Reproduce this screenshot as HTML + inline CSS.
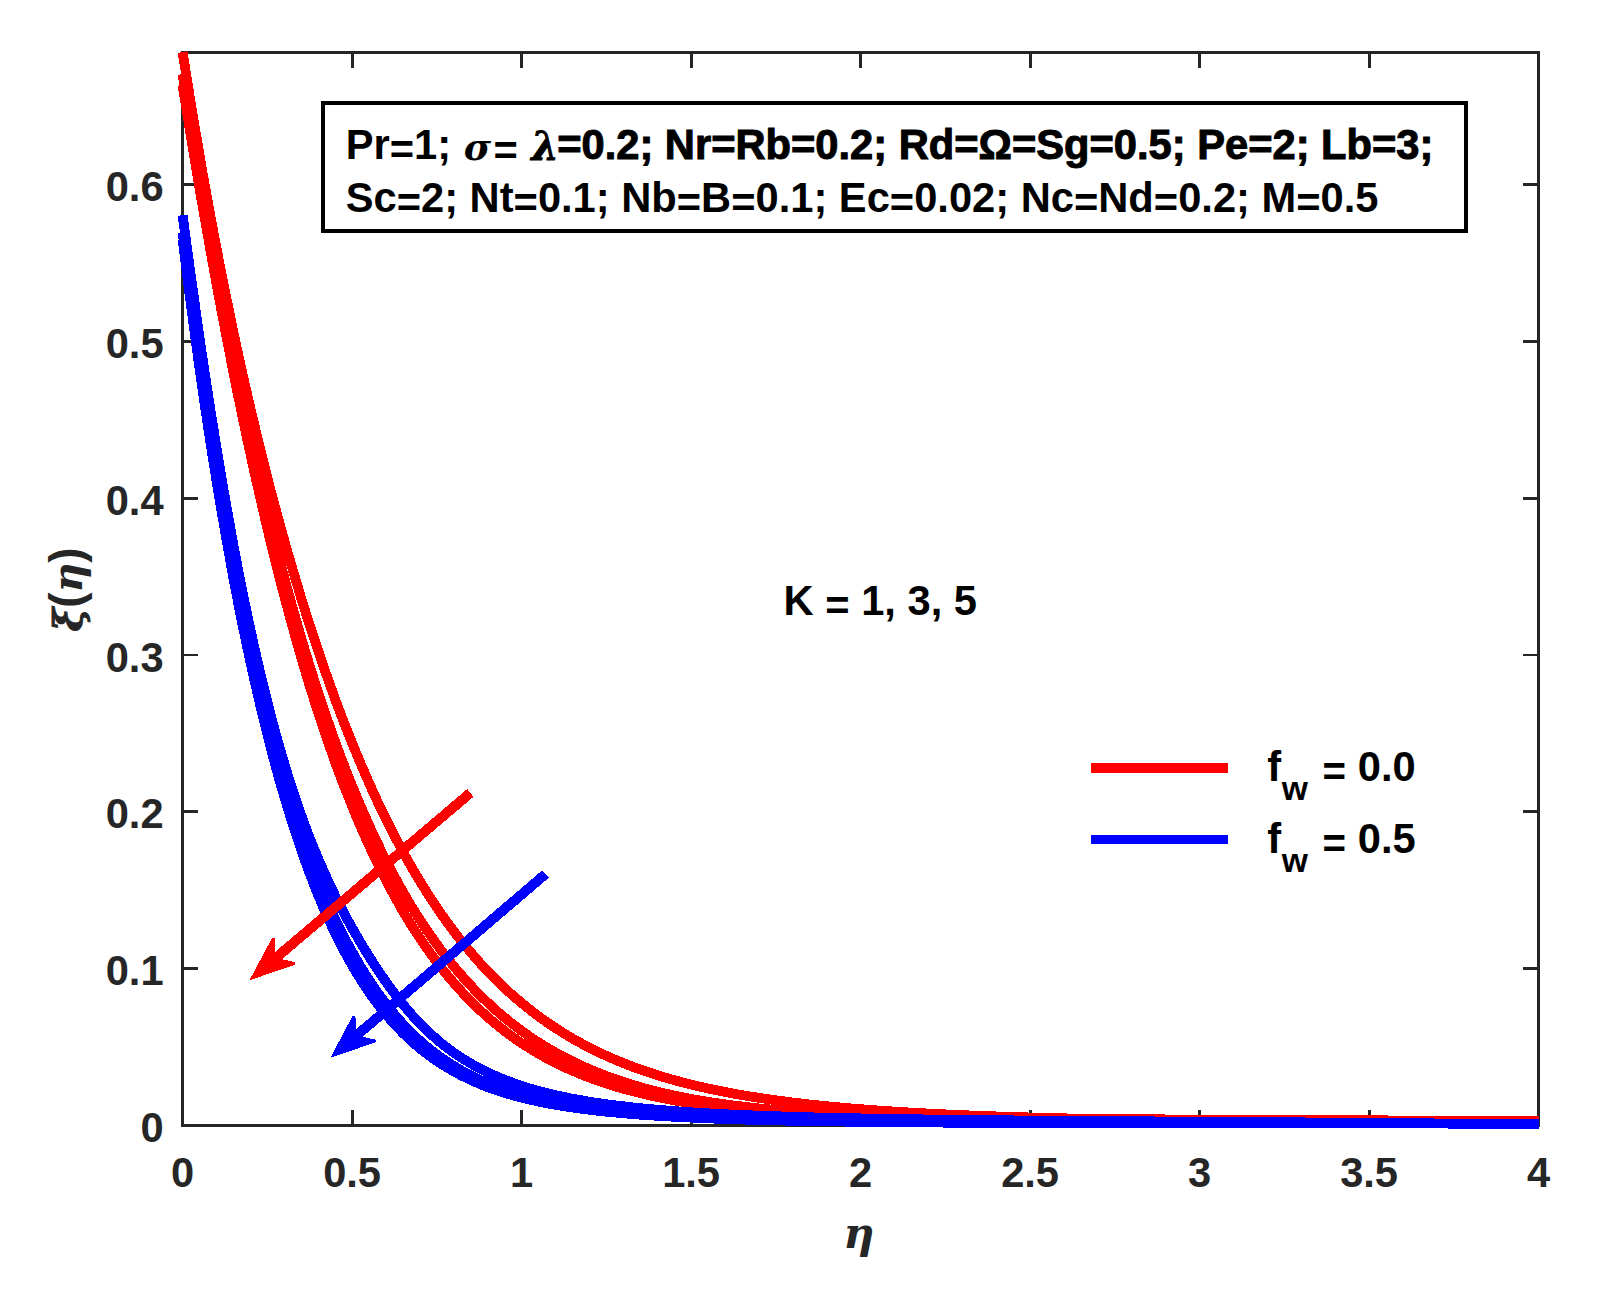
<!DOCTYPE html>
<html lang="en"><head><meta charset="utf-8"><title>Plot</title>
<style>html,body{margin:0;padding:0;background:#fff}svg{display:block}text{font-family:"Liberation Sans",sans-serif;font-weight:bold;font-size:41.67px}.ax{fill:#262626}.sym{font-family:"DejaVu Serif","Liberation Serif",serif;font-style:italic;font-weight:bold}.xb{stroke:#000;stroke-width:1px;paint-order:stroke}</style></head><body>
<svg width="1603" height="1297" viewBox="0 0 1603 1297" shape-rendering="crispEdges">
<rect width="1603" height="1297" fill="#fff"/>
<g stroke="#262626" stroke-width="2.9" fill="none" stroke-linecap="butt">
<rect x="182.6" y="52.3" width="1356.0" height="1073.1000000000001"/>
<line x1="352.1" y1="1125.4" x2="352.1" y2="1110.0"/>
<line x1="352.1" y1="52.3" x2="352.1" y2="67.7"/>
<line x1="521.6" y1="1125.4" x2="521.6" y2="1110.0"/>
<line x1="521.6" y1="52.3" x2="521.6" y2="67.7"/>
<line x1="691.1" y1="1125.4" x2="691.1" y2="1110.0"/>
<line x1="691.1" y1="52.3" x2="691.1" y2="67.7"/>
<line x1="860.6" y1="1125.4" x2="860.6" y2="1110.0"/>
<line x1="860.6" y1="52.3" x2="860.6" y2="67.7"/>
<line x1="1030.1" y1="1125.4" x2="1030.1" y2="1110.0"/>
<line x1="1030.1" y1="52.3" x2="1030.1" y2="67.7"/>
<line x1="1199.6" y1="1125.4" x2="1199.6" y2="1110.0"/>
<line x1="1199.6" y1="52.3" x2="1199.6" y2="67.7"/>
<line x1="1369.1" y1="1125.4" x2="1369.1" y2="1110.0"/>
<line x1="1369.1" y1="52.3" x2="1369.1" y2="67.7"/>
<line x1="182.6" y1="968.6" x2="198.0" y2="968.6"/>
<line x1="1538.6" y1="968.6" x2="1523.1999999999998" y2="968.6"/>
<line x1="182.6" y1="811.8" x2="198.0" y2="811.8"/>
<line x1="1538.6" y1="811.8" x2="1523.1999999999998" y2="811.8"/>
<line x1="182.6" y1="655.0" x2="198.0" y2="655.0"/>
<line x1="1538.6" y1="655.0" x2="1523.1999999999998" y2="655.0"/>
<line x1="182.6" y1="498.2" x2="198.0" y2="498.2"/>
<line x1="1538.6" y1="498.2" x2="1523.1999999999998" y2="498.2"/>
<line x1="182.6" y1="341.4" x2="198.0" y2="341.4"/>
<line x1="1538.6" y1="341.4" x2="1523.1999999999998" y2="341.4"/>
<line x1="182.6" y1="184.6" x2="198.0" y2="184.6"/>
<line x1="1538.6" y1="184.6" x2="1523.1999999999998" y2="184.6"/>
</g>
<g class="ax" text-anchor="middle" style="font-size:42.4px">
<text x="182.6" y="1187">0</text>
<text x="352.1" y="1187">0.5</text>
<text x="521.6" y="1187">1</text>
<text x="691.1" y="1187">1.5</text>
<text x="860.6" y="1187">2</text>
<text x="1030.1" y="1187">2.5</text>
<text x="1199.6" y="1187">3</text>
<text x="1369.1" y="1187">3.5</text>
<text x="1538.6" y="1187">4</text>
</g>
<g class="ax" text-anchor="end" style="font-size:42.4px">
<text x="163.6" y="1142.0">0</text>
<text x="163.6" y="985.2">0.1</text>
<text x="163.6" y="828.4">0.2</text>
<text x="163.6" y="671.6">0.3</text>
<text x="163.6" y="514.8">0.4</text>
<text x="163.6" y="358.0">0.5</text>
<text x="163.6" y="201.2">0.6</text>
</g>
<clipPath id="c"><rect x="176" y="50.8" width="1364" height="1082"/></clipPath>
<g fill="none" stroke-width="9.8" stroke-linejoin="round" clip-path="url(#c)">
<path stroke="#f00" d="M182.6,52.1 L186.0,73.6 L189.4,94.7 L192.8,115.3 L196.2,135.4 L199.5,155.2 L202.9,174.6 L206.3,193.5 L209.7,212.1 L213.1,230.3 L216.5,248.1 L219.9,265.6 L223.3,282.7 L226.7,299.5 L230.1,316.0 L233.4,332.1 L236.8,347.9 L240.2,363.5 L243.6,378.7 L247.0,393.6 L250.4,408.3 L253.8,422.6 L257.2,436.8 L260.6,450.6 L264.0,464.2 L267.4,477.5 L270.7,490.6 L274.1,503.5 L277.5,516.1 L280.9,528.5 L284.3,540.6 L287.7,552.6 L291.1,564.3 L294.5,575.8 L297.9,587.1 L301.2,598.2 L304.6,609.1 L308.0,619.9 L311.4,630.4 L314.8,640.7 L318.2,650.9 L321.6,660.9 L325.0,670.7 L328.4,680.3 L331.8,689.8 L335.1,699.1 L338.5,708.2 L341.9,717.2 L345.3,726.0 L348.7,734.6 L352.1,743.0 L355.5,751.3 L358.9,759.5 L362.3,767.5 L365.7,775.3 L369.1,783.0 L372.4,790.5 L375.8,797.9 L379.2,805.1 L382.6,812.2 L386.0,819.1 L389.4,825.9 L392.8,832.6 L396.2,839.1 L399.6,845.5 L402.9,851.8 L406.3,857.9 L409.7,863.9 L413.1,869.8 L416.5,875.6 L419.9,881.2 L423.3,886.7 L426.7,892.1 L430.1,897.4 L433.5,902.5 L436.9,907.6 L440.2,912.5 L443.6,917.4 L447.0,922.1 L450.4,926.7 L453.8,931.2 L457.2,935.7 L460.6,940.0 L464.0,944.2 L467.4,948.3 L470.8,952.4 L474.1,956.3 L477.5,960.2 L480.9,964.0 L484.3,967.6 L487.7,971.2 L491.1,974.8 L494.5,978.2 L497.9,981.6 L501.3,984.8 L504.6,988.0 L508.0,991.2 L511.4,994.2 L514.8,997.2 L518.2,1000.1 L521.6,1003.0 L530.1,1009.8 L538.5,1016.3 L547.0,1022.3 L555.5,1028.0 L564.0,1033.4 L572.4,1038.5 L580.9,1043.2 L589.4,1047.7 L597.9,1051.9 L606.4,1055.9 L614.8,1059.6 L623.3,1063.1 L631.8,1066.4 L640.2,1069.5 L648.7,1072.4 L657.2,1075.1 L665.7,1077.7 L674.1,1080.1 L682.6,1082.4 L691.1,1084.5 L699.6,1086.6 L708.1,1088.5 L716.5,1090.3 L725.0,1092.0 L733.5,1093.6 L742.0,1095.1 L750.4,1096.5 L758.9,1097.8 L767.4,1099.1 L775.9,1100.3 L784.3,1101.4 L792.8,1102.5 L801.3,1103.5 L809.8,1104.5 L818.2,1105.4 L826.7,1106.2 L835.2,1107.0 L843.7,1107.8 L852.1,1108.5 L860.6,1109.2 L884.0,1110.9 L907.4,1112.4 L930.7,1113.7 L954.1,1114.8 L977.5,1115.8 L1000.9,1116.6 L1024.3,1117.3 L1047.6,1118.0 L1071.0,1118.5 L1094.4,1119.0 L1117.8,1119.4 L1141.2,1119.8 L1164.5,1120.1 L1187.9,1120.4 L1211.3,1120.6 L1234.7,1120.8 L1258.0,1121.0 L1281.4,1121.1 L1304.8,1121.3 L1328.2,1121.3 L1351.6,1121.4 L1374.9,1121.5 L1398.3,1121.5 L1421.7,1121.5 L1445.1,1121.4 L1468.5,1121.4 L1491.8,1121.3 L1515.2,1121.2 L1538.6,1121.1"/>
<path stroke="#f00" d="M182.6,74.1 L186.0,95.1 L189.4,115.8 L192.8,136.2 L196.2,156.4 L199.5,176.2 L202.9,195.7 L206.3,214.9 L209.7,233.8 L213.1,252.4 L216.5,270.8 L219.9,288.8 L223.3,306.5 L226.7,323.9 L230.1,341.1 L233.4,357.9 L236.8,374.5 L240.2,390.8 L243.6,406.8 L247.0,422.5 L250.4,438.0 L253.8,453.1 L257.2,468.0 L260.6,482.6 L264.0,497.0 L267.4,511.1 L270.7,524.9 L274.1,538.5 L277.5,551.8 L280.9,564.8 L284.3,577.6 L287.7,590.2 L291.1,602.5 L294.5,614.6 L297.9,626.4 L301.2,638.0 L304.6,649.3 L308.0,660.5 L311.4,671.4 L314.8,682.1 L318.2,692.5 L321.6,702.8 L325.0,712.8 L328.4,722.6 L331.8,732.2 L335.1,741.6 L338.5,750.8 L341.9,759.8 L345.3,768.7 L348.7,777.3 L352.1,785.7 L355.5,794.0 L358.9,802.0 L362.3,809.9 L365.7,817.7 L369.1,825.2 L372.4,832.6 L375.8,839.8 L379.2,846.8 L382.6,853.7 L386.0,860.4 L389.4,867.0 L392.8,873.4 L396.2,879.7 L399.6,885.8 L402.9,891.8 L406.3,897.7 L409.7,903.4 L413.1,909.0 L416.5,914.4 L419.9,919.7 L423.3,924.9 L426.7,930.0 L430.1,934.9 L433.5,939.7 L436.9,944.4 L440.2,949.0 L443.6,953.5 L447.0,957.9 L450.4,962.1 L453.8,966.3 L457.2,970.4 L460.6,974.3 L464.0,978.2 L467.4,981.9 L470.8,985.6 L474.1,989.2 L477.5,992.7 L480.9,996.1 L484.3,999.4 L487.7,1002.6 L491.1,1005.8 L494.5,1008.9 L497.9,1011.9 L501.3,1014.8 L504.6,1017.6 L508.0,1020.4 L511.4,1023.1 L514.8,1025.7 L518.2,1028.3 L521.6,1030.8 L530.1,1036.8 L538.5,1042.4 L547.0,1047.6 L555.5,1052.5 L564.0,1057.1 L572.4,1061.4 L580.9,1065.4 L589.4,1069.2 L597.9,1072.7 L606.4,1076.0 L614.8,1079.1 L623.3,1081.9 L631.8,1084.6 L640.2,1087.1 L648.7,1089.5 L657.2,1091.6 L665.7,1093.6 L674.1,1095.5 L682.6,1097.3 L691.1,1098.9 L699.6,1100.4 L708.1,1101.8 L716.5,1103.1 L725.0,1104.3 L733.5,1105.5 L742.0,1106.5 L750.4,1107.5 L758.9,1108.4 L767.4,1109.2 L775.9,1110.0 L784.3,1110.7 L792.8,1111.3 L801.3,1111.9 L809.8,1112.5 L818.2,1113.0 L826.7,1113.5 L835.2,1113.9 L843.7,1114.3 L852.1,1114.7 L860.6,1115.1 L884.0,1115.9 L907.4,1116.6 L930.7,1117.2 L954.1,1117.6 L977.5,1118.0 L1000.9,1118.3 L1024.3,1118.6 L1047.6,1118.8 L1071.0,1119.0 L1094.4,1119.1 L1117.8,1119.2 L1141.2,1119.3 L1164.5,1119.4 L1187.9,1119.5 L1211.3,1119.6 L1234.7,1119.6 L1258.0,1119.7 L1281.4,1119.8 L1304.8,1119.9 L1328.2,1120.0 L1351.6,1120.1 L1374.9,1120.3 L1398.3,1120.5 L1421.7,1120.7 L1445.1,1120.9 L1468.5,1121.1 L1491.8,1121.4 L1515.2,1121.6 L1538.6,1121.9"/>
<path stroke="#f00" d="M182.6,85.1 L186.0,106.3 L189.4,127.1 L192.8,147.7 L196.2,168.0 L199.5,188.0 L202.9,207.7 L206.3,227.1 L209.7,246.3 L213.1,265.2 L216.5,283.8 L219.9,302.1 L223.3,320.1 L226.7,337.8 L230.1,355.2 L233.4,372.4 L236.8,389.3 L240.2,405.8 L243.6,422.1 L247.0,438.2 L250.4,453.9 L253.8,469.4 L257.2,484.5 L260.6,499.4 L264.0,514.1 L267.4,528.4 L270.7,542.5 L274.1,556.3 L277.5,569.8 L280.9,583.1 L284.3,596.2 L287.7,608.9 L291.1,621.4 L294.5,633.7 L297.9,645.7 L301.2,657.4 L304.6,668.9 L308.0,680.2 L311.4,691.3 L314.8,702.0 L318.2,712.6 L321.6,723.0 L325.0,733.1 L328.4,743.0 L331.8,752.6 L335.1,762.1 L338.5,771.3 L341.9,780.4 L345.3,789.2 L348.7,797.8 L352.1,806.2 L355.5,814.5 L358.9,822.5 L362.3,830.4 L365.7,838.0 L369.1,845.5 L372.4,852.8 L375.8,860.0 L379.2,866.9 L382.6,873.7 L386.0,880.3 L389.4,886.8 L392.8,893.1 L396.2,899.3 L399.6,905.3 L402.9,911.1 L406.3,916.8 L409.7,922.4 L413.1,927.8 L416.5,933.1 L419.9,938.2 L423.3,943.2 L426.7,948.1 L430.1,952.9 L433.5,957.5 L436.9,962.1 L440.2,966.5 L443.6,970.7 L447.0,974.9 L450.4,979.0 L453.8,982.9 L457.2,986.8 L460.6,990.5 L464.0,994.2 L467.4,997.7 L470.8,1001.2 L474.1,1004.6 L477.5,1007.8 L480.9,1011.0 L484.3,1014.1 L487.7,1017.1 L491.1,1020.1 L494.5,1022.9 L497.9,1025.7 L501.3,1028.4 L504.6,1031.0 L508.0,1033.6 L511.4,1036.1 L514.8,1038.5 L518.2,1040.9 L521.6,1043.1 L530.1,1048.6 L538.5,1053.7 L547.0,1058.4 L555.5,1062.8 L564.0,1066.9 L572.4,1070.7 L580.9,1074.3 L589.4,1077.6 L597.9,1080.6 L606.4,1083.5 L614.8,1086.2 L623.3,1088.7 L631.8,1091.0 L640.2,1093.1 L648.7,1095.1 L657.2,1097.0 L665.7,1098.7 L674.1,1100.3 L682.6,1101.8 L691.1,1103.1 L699.6,1104.4 L708.1,1105.6 L716.5,1106.7 L725.0,1107.7 L733.5,1108.7 L742.0,1109.5 L750.4,1110.4 L758.9,1111.1 L767.4,1111.8 L775.9,1112.4 L784.3,1113.0 L792.8,1113.6 L801.3,1114.1 L809.8,1114.6 L818.2,1115.0 L826.7,1115.4 L835.2,1115.8 L843.7,1116.2 L852.1,1116.5 L860.6,1116.8 L884.0,1117.5 L907.4,1118.1 L930.7,1118.6 L954.1,1119.0 L977.5,1119.3 L1000.9,1119.6 L1024.3,1119.8 L1047.6,1120.0 L1071.0,1120.1 L1094.4,1120.3 L1117.8,1120.3 L1141.2,1120.4 L1164.5,1120.5 L1187.9,1120.5 L1211.3,1120.6 L1234.7,1120.6 L1258.0,1120.6 L1281.4,1120.7 L1304.8,1120.7 L1328.2,1120.7 L1351.6,1120.8 L1374.9,1120.8 L1398.3,1120.9 L1421.7,1121.0 L1445.1,1121.1 L1468.5,1121.2 L1491.8,1121.4 L1515.2,1121.5 L1538.6,1121.7"/>
<path stroke="#00f" d="M182.6,215.1 L186.0,240.5 L189.4,265.5 L192.8,290.0 L196.2,314.0 L199.5,337.6 L202.9,360.6 L206.3,383.2 L209.7,405.2 L213.1,426.7 L216.5,447.7 L219.9,468.2 L223.3,488.2 L226.7,507.6 L230.1,526.5 L233.4,545.0 L236.8,562.9 L240.2,580.3 L243.6,597.2 L247.0,613.6 L250.4,629.5 L253.8,644.9 L257.2,659.9 L260.6,674.4 L264.0,688.4 L267.4,702.0 L270.7,715.1 L274.1,727.8 L277.5,740.1 L280.9,752.0 L284.3,763.5 L287.7,774.6 L291.1,785.3 L294.5,795.6 L297.9,805.6 L301.2,815.2 L304.6,824.5 L308.0,833.5 L311.4,842.1 L314.8,850.5 L318.2,858.6 L321.6,866.5 L325.0,874.1 L328.4,881.5 L331.8,888.7 L335.1,895.7 L338.5,902.5 L341.9,909.1 L345.3,915.5 L348.7,921.8 L352.1,927.9 L355.5,933.9 L358.9,939.7 L362.3,945.4 L365.7,951.0 L369.1,956.4 L372.4,961.7 L375.8,966.9 L379.2,972.0 L382.6,977.0 L386.0,981.9 L389.4,986.6 L392.8,991.2 L396.2,995.7 L399.6,1000.1 L402.9,1004.3 L406.3,1008.4 L409.7,1012.4 L413.1,1016.2 L416.5,1019.9 L419.9,1023.5 L423.3,1026.9 L426.7,1030.3 L430.1,1033.5 L433.5,1036.5 L436.9,1039.5 L440.2,1042.3 L443.6,1045.1 L447.0,1047.7 L450.4,1050.2 L453.8,1052.6 L457.2,1055.0 L460.6,1057.2 L464.0,1059.4 L467.4,1061.5 L470.8,1063.5 L474.1,1065.4 L477.5,1067.2 L480.9,1069.0 L484.3,1070.7 L487.7,1072.4 L491.1,1074.0 L494.5,1075.5 L497.9,1077.0 L501.3,1078.4 L504.6,1079.8 L508.0,1081.1 L511.4,1082.3 L514.8,1083.6 L518.2,1084.7 L521.6,1085.9 L530.1,1088.5 L538.5,1090.9 L547.0,1093.1 L555.5,1095.1 L564.0,1097.0 L572.4,1098.7 L580.9,1100.2 L589.4,1101.7 L597.9,1103.0 L606.4,1104.2 L614.8,1105.3 L623.3,1106.3 L631.8,1107.3 L640.2,1108.2 L648.7,1109.0 L657.2,1109.7 L665.7,1110.4 L674.1,1111.1 L682.6,1111.7 L691.1,1112.3 L699.6,1112.8 L708.1,1113.3 L716.5,1113.8 L725.0,1114.2 L733.5,1114.6 L742.0,1115.0 L750.4,1115.3 L758.9,1115.7 L767.4,1116.0 L775.9,1116.3 L784.3,1116.5 L792.8,1116.8 L801.3,1117.0 L809.8,1117.3 L818.2,1117.5 L826.7,1117.7 L835.2,1117.9 L843.7,1118.1 L852.1,1118.2 L860.6,1118.4 L884.0,1118.8 L907.4,1119.2 L930.7,1119.5 L954.1,1119.8 L977.5,1120.0 L1000.9,1120.3 L1024.3,1120.5 L1047.6,1120.6 L1071.0,1120.8 L1094.4,1121.0 L1117.8,1121.1 L1141.2,1121.3 L1164.5,1121.5 L1187.9,1121.6 L1211.3,1121.8 L1234.7,1121.9 L1258.0,1122.1 L1281.4,1122.2 L1304.8,1122.4 L1328.2,1122.6 L1351.6,1122.7 L1374.9,1122.9 L1398.3,1123.1 L1421.7,1123.3 L1445.1,1123.5 L1468.5,1123.6 L1491.8,1123.8 L1515.2,1124.0 L1538.6,1124.1"/>
<path stroke="#00f" d="M182.6,232.2 L186.0,259.1 L189.4,285.2 L192.8,310.6 L196.2,335.3 L199.5,359.4 L202.9,382.8 L206.3,405.5 L209.7,427.7 L213.1,449.2 L216.5,470.1 L219.9,490.4 L223.3,510.1 L226.7,529.3 L230.1,547.9 L233.4,566.0 L236.8,583.6 L240.2,600.7 L243.6,617.3 L247.0,633.4 L250.4,649.1 L253.8,664.2 L257.2,679.0 L260.6,693.3 L264.0,707.2 L267.4,720.6 L270.7,733.7 L274.1,746.4 L277.5,758.7 L280.9,770.6 L284.3,782.2 L287.7,793.4 L291.1,804.3 L294.5,814.9 L297.9,825.1 L301.2,835.0 L304.6,844.6 L308.0,853.9 L311.4,863.0 L314.8,871.7 L318.2,880.2 L321.6,888.5 L325.0,896.4 L328.4,904.2 L331.8,911.6 L335.1,918.9 L338.5,925.9 L341.9,932.7 L345.3,939.3 L348.7,945.7 L352.1,951.9 L355.5,957.9 L358.9,963.7 L362.3,969.3 L365.7,974.8 L369.1,980.0 L372.4,985.1 L375.8,990.1 L379.2,994.8 L382.6,999.4 L386.0,1003.9 L389.4,1008.2 L392.8,1012.3 L396.2,1016.4 L399.6,1020.2 L402.9,1024.0 L406.3,1027.6 L409.7,1031.0 L413.1,1034.4 L416.5,1037.6 L419.9,1040.7 L423.3,1043.7 L426.7,1046.6 L430.1,1049.3 L433.5,1052.0 L436.9,1054.6 L440.2,1057.0 L443.6,1059.4 L447.0,1061.7 L450.4,1063.9 L453.8,1066.0 L457.2,1068.0 L460.6,1070.0 L464.0,1071.9 L467.4,1073.7 L470.8,1075.4 L474.1,1077.1 L477.5,1078.7 L480.9,1080.2 L484.3,1081.7 L487.7,1083.1 L491.1,1084.5 L494.5,1085.8 L497.9,1087.1 L501.3,1088.3 L504.6,1089.4 L508.0,1090.5 L511.4,1091.6 L514.8,1092.7 L518.2,1093.6 L521.6,1094.6 L530.1,1096.8 L538.5,1098.8 L547.0,1100.6 L555.5,1102.3 L564.0,1103.8 L572.4,1105.1 L580.9,1106.4 L589.4,1107.5 L597.9,1108.6 L606.4,1109.5 L614.8,1110.4 L623.3,1111.2 L631.8,1111.9 L640.2,1112.6 L648.7,1113.2 L657.2,1113.8 L665.7,1114.4 L674.1,1114.9 L682.6,1115.3 L691.1,1115.7 L699.6,1116.1 L708.1,1116.5 L716.5,1116.8 L725.0,1117.2 L733.5,1117.4 L742.0,1117.7 L750.4,1118.0 L758.9,1118.2 L767.4,1118.4 L775.9,1118.6 L784.3,1118.8 L792.8,1119.0 L801.3,1119.2 L809.8,1119.4 L818.2,1119.5 L826.7,1119.6 L835.2,1119.8 L843.7,1119.9 L852.1,1120.0 L860.6,1120.1 L884.0,1120.4 L907.4,1120.6 L930.7,1120.8 L954.1,1121.0 L977.5,1121.2 L1000.9,1121.3 L1024.3,1121.4 L1047.6,1121.5 L1071.0,1121.6 L1094.4,1121.7 L1117.8,1121.8 L1141.2,1121.9 L1164.5,1122.0 L1187.9,1122.1 L1211.3,1122.2 L1234.7,1122.3 L1258.0,1122.4 L1281.4,1122.5 L1304.8,1122.6 L1328.2,1122.8 L1351.6,1122.9 L1374.9,1123.1 L1398.3,1123.2 L1421.7,1123.4 L1445.1,1123.6 L1468.5,1123.7 L1491.8,1123.9 L1515.2,1124.1 L1538.6,1124.2"/>
<path stroke="#00f" d="M182.6,239.4 L186.0,266.6 L189.4,293.2 L192.8,319.0 L196.2,344.1 L199.5,368.5 L202.9,392.2 L206.3,415.3 L209.7,437.8 L213.1,459.6 L216.5,480.8 L219.9,501.4 L223.3,521.4 L226.7,540.8 L230.1,559.7 L233.4,578.1 L236.8,595.9 L240.2,613.2 L243.6,630.0 L247.0,646.3 L250.4,662.2 L253.8,677.5 L257.2,692.4 L260.6,706.9 L264.0,721.0 L267.4,734.6 L270.7,747.8 L274.1,760.6 L277.5,773.0 L280.9,785.1 L284.3,796.7 L287.7,808.1 L291.1,819.0 L294.5,829.6 L297.9,839.9 L301.2,849.9 L304.6,859.5 L308.0,868.9 L311.4,877.9 L314.8,886.7 L318.2,895.1 L321.6,903.3 L325.0,911.2 L328.4,918.8 L331.8,926.2 L335.1,933.3 L338.5,940.2 L341.9,946.8 L345.3,953.2 L348.7,959.4 L352.1,965.4 L355.5,971.1 L358.9,976.7 L362.3,982.0 L365.7,987.2 L369.1,992.2 L372.4,997.0 L375.8,1001.6 L379.2,1006.1 L382.6,1010.4 L386.0,1014.5 L389.4,1018.5 L392.8,1022.3 L396.2,1026.0 L399.6,1029.6 L402.9,1033.0 L406.3,1036.3 L409.7,1039.5 L413.1,1042.6 L416.5,1045.5 L419.9,1048.4 L423.3,1051.1 L426.7,1053.7 L430.1,1056.2 L433.5,1058.7 L436.9,1061.0 L440.2,1063.3 L443.6,1065.4 L447.0,1067.5 L450.4,1069.5 L453.8,1071.4 L457.2,1073.3 L460.6,1075.1 L464.0,1076.8 L467.4,1078.4 L470.8,1080.0 L474.1,1081.5 L477.5,1083.0 L480.9,1084.4 L484.3,1085.8 L487.7,1087.1 L491.1,1088.3 L494.5,1089.5 L497.9,1090.7 L501.3,1091.8 L504.6,1092.9 L508.0,1093.9 L511.4,1094.9 L514.8,1095.9 L518.2,1096.8 L521.6,1097.7 L530.1,1099.7 L538.5,1101.6 L547.0,1103.3 L555.5,1104.8 L564.0,1106.3 L572.4,1107.5 L580.9,1108.7 L589.4,1109.8 L597.9,1110.8 L606.4,1111.7 L614.8,1112.5 L623.3,1113.3 L631.8,1114.0 L640.2,1114.7 L648.7,1115.2 L657.2,1115.8 L665.7,1116.3 L674.1,1116.8 L682.6,1117.2 L691.1,1117.6 L699.6,1118.0 L708.1,1118.4 L716.5,1118.7 L725.0,1119.0 L733.5,1119.3 L742.0,1119.5 L750.4,1119.8 L758.9,1120.0 L767.4,1120.2 L775.9,1120.4 L784.3,1120.6 L792.8,1120.8 L801.3,1120.9 L809.8,1121.1 L818.2,1121.2 L826.7,1121.4 L835.2,1121.5 L843.7,1121.6 L852.1,1121.7 L860.6,1121.8 L884.0,1122.1 L907.4,1122.3 L930.7,1122.5 L954.1,1122.7 L977.5,1122.8 L1000.9,1122.9 L1024.3,1123.0 L1047.6,1123.1 L1071.0,1123.2 L1094.4,1123.2 L1117.8,1123.3 L1141.2,1123.3 L1164.5,1123.4 L1187.9,1123.4 L1211.3,1123.4 L1234.7,1123.4 L1258.0,1123.4 L1281.4,1123.4 L1304.8,1123.5 L1328.2,1123.5 L1351.6,1123.5 L1374.9,1123.5 L1398.3,1123.5 L1421.7,1123.5 L1445.1,1123.5 L1468.5,1123.5 L1491.8,1123.5 L1515.2,1123.5 L1538.6,1123.5"/>
</g>
<g shape-rendering="crispEdges">
<polygon fill="#f00" stroke="#f00" stroke-width="1.2" stroke-linejoin="miter" points="467.1,789.9 275.0,952.8 274.0,938.6 272.2,939.0 250.7,979.2 293.9,964.6 294.6,962.8 280.7,959.5 472.7,796.7"/>
<polygon fill="#00f" stroke="#00f" stroke-width="1.2" stroke-linejoin="miter" points="542.2,871.1 355.8,1030.3 354.8,1016.1 352.9,1016.5 331.6,1056.8 374.7,1042.0 375.4,1040.3 361.5,1037.0 548.0,877.7"/>
</g>
<line x1="1091" y1="768" x2="1228" y2="768" stroke="#f00" stroke-width="9.8"/>
<line x1="1091" y1="839.4" x2="1228" y2="839.4" stroke="#00f" stroke-width="9.8"/>
<text x="1267.3" y="780.9">f</text>
<text x="1281.8" y="799.9" style="font-size:33.6px">w</text>
<text x="1322.4" y="785.9" textLength="23.5" lengthAdjust="spacingAndGlyphs">=</text>
<text x="1357.8" y="780.9">0.0</text>
<text x="1267.3" y="852.9">f</text>
<text x="1281.8" y="871.9" style="font-size:33.6px">w</text>
<text x="1322.4" y="857.9" textLength="23.5" lengthAdjust="spacingAndGlyphs">=</text>
<text x="1357.8" y="852.9">0.5</text>
<text x="783.6" y="615">K <tspan dy="5">=</tspan><tspan dy="-5"> </tspan>1, 3, 5</text>
<rect x="323.2" y="103.2" width="1142.8" height="127.5" fill="#fff" stroke="#000" stroke-width="4.1"/>
<text x="345.7" y="159.2">Pr<tspan dy="5.0">=</tspan><tspan dy="-5.0">1</tspan>;</text>
<text class="sym" x="463.8" y="159.5" style="font-size:37px">σ</text>
<text x="493.5" y="164.5">=</text>
<text class="sym xb" x="531.5" y="159.5" style="font-size:39px">λ</text>
<text class="xb" x="557.2" y="159">=0.2; Nr=Rb=0.2; Rd=Ω=Sg=0.5; Pe=2; Lb=3;</text>
<text x="345.7" y="212">Sc<tspan dy="5.0">=</tspan><tspan dy="-5.0">2</tspan>; Nt<tspan dy="5.0">=</tspan><tspan dy="-5.0">0</tspan>.1; Nb<tspan dy="5.0">=</tspan><tspan dy="-5.0">B</tspan><tspan dy="5.0">=</tspan><tspan dy="-5.0">0</tspan>.1; Ec<tspan dy="5.0">=</tspan><tspan dy="-5.0">0</tspan>.02; Nc<tspan dy="5.0">=</tspan><tspan dy="-5.0">N</tspan>d<tspan dy="5.0">=</tspan><tspan dy="-5.0">0</tspan>.2; M<tspan dy="5.0">=</tspan><tspan dy="-5.0">0</tspan>.5</text>
<text class="ax sym" text-anchor="middle" x="859" y="1247.7" style="font-size:43px">η</text>
<text class="ax" text-anchor="middle" transform="translate(82,589.4) rotate(-90)" style="font-size:45.83px"><tspan class="sym" style="font-size:40px;stroke:#262626;stroke-width:0.9px">ξ</tspan>(<tspan class="sym" style="font-size:41px">η</tspan>)</text>
</svg></body></html>
